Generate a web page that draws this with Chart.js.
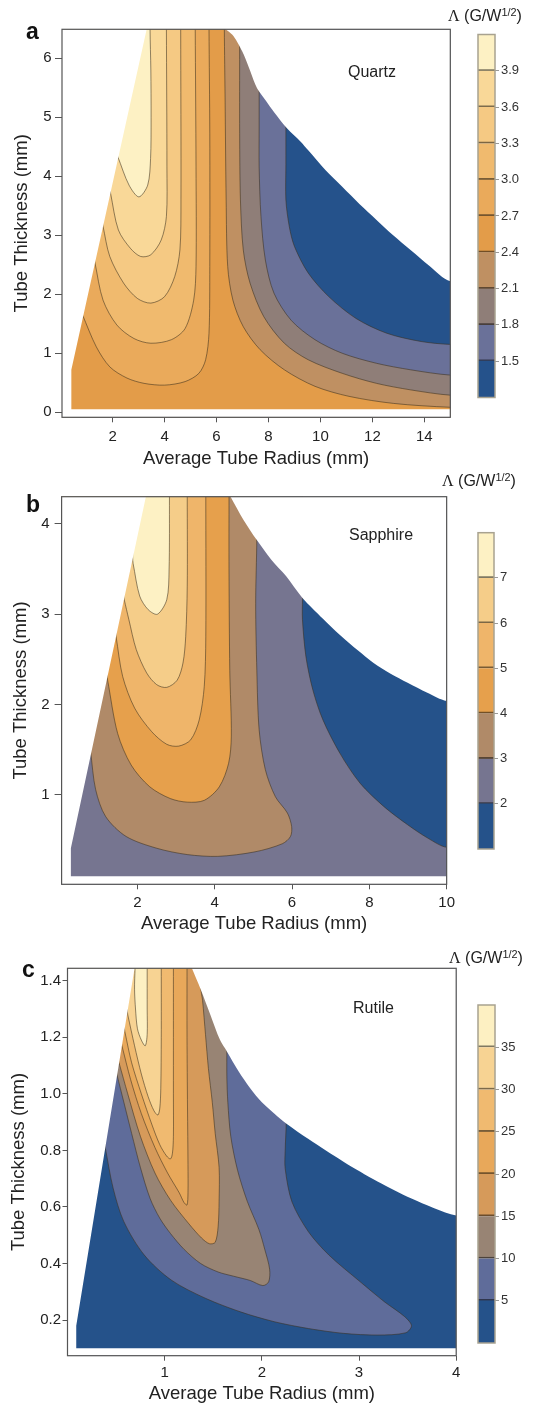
<!DOCTYPE html>
<html lang="en">
<head>
<meta charset="UTF-8">
<title>Λ maps - Quartz, Sapphire, Rutile</title>
<script src="https://cdn.jsdelivr.net/npm/chart.js@4"></script>
<style>
  html, body { margin: 0; padding: 0; background: #fff; }
  body {
    position: relative;
    width: 536px;
    height: 1405px;
    overflow: hidden;
    font-family: 'Liberation Sans', Arial, sans-serif;
    color: #222;
  }
  canvas { position: absolute; }
  .lbl { position: absolute; line-height: 1; white-space: nowrap; }
  .panel { font-weight: bold; font-size: 23px; color: #111; }
  .mat { font-size: 16px; }
  .unit { font-size: 16px; }
  .unit .lam { font-family: 'Liberation Serif', serif; }
  .unit sup { font-size: 0.68em; vertical-align: 0.5em; line-height: 0; }
</style>
</head>
<body>
  <canvas id="qzMap" width="460" height="470" style="left:0;top:0"></canvas>
  <canvas id="qzBar" width="66" height="470" style="left:470px;top:0"></canvas>
  <canvas id="spMap" width="460" height="465" style="left:0;top:470px"></canvas>
  <canvas id="spBar" width="66" height="465" style="left:470px;top:470px"></canvas>
  <canvas id="ruMap" width="466" height="470" style="left:0;top:935px"></canvas>
  <canvas id="ruBar" width="66" height="470" style="left:470px;top:935px"></canvas>

  <div class="lbl panel" style="left:26px;top:19.5px">a</div>
  <div class="lbl panel" style="left:26px;top:492.5px">b</div>
  <div class="lbl panel" style="left:22px;top:957.5px">c</div>

  <div class="lbl mat" style="left:348px;top:63.5px">Quartz</div>
  <div class="lbl mat" style="left:349px;top:527px">Sapphire</div>
  <div class="lbl mat" style="left:353px;top:999.5px">Rutile</div>

  <div class="lbl unit" style="left:448px;top:7.5px"><span class="lam">Λ</span> (G/W<sup>1/2</sup>)</div>
  <div class="lbl unit" style="left:442px;top:472.5px"><span class="lam">Λ</span> (G/W<sup>1/2</sup>)</div>
  <div class="lbl unit" style="left:449px;top:949.5px"><span class="lam">Λ</span> (G/W<sup>1/2</sup>)</div>

<script>
// ---------- (a) Quartz ----------
const quartzLevels = [1.2, 1.5, 1.8, 2.1, 2.4, 2.7, 3.0, 3.3, 3.6, 3.9, 4.2];
const quartzBarTicks = [1.5, 1.8, 2.1, 2.4, 2.7, 3.0, 3.3, 3.6, 3.9];
const quartzXTicks = [2, 4, 6, 8, 10, 12, 14];
const quartzYTicks = [0, 1, 2, 3, 4, 5, 6];
const quartzFloor = 0.05;
const quartzLeftEdge = [[0.41, 0.05], [0.41, 0.72], [3.31, 6.49]];
const quartzTopEdge = [[6.35, 6.49], [6.6, 6.40], [6.79, 6.28], [7.05, 6.06], [7.3, 5.78], [7.56, 5.49],
  [7.9, 5.28], [8.21, 5.09], [8.72, 4.81], [9.23, 4.59], [9.53, 4.44], [10.2, 4.10], [10.84, 3.82],
  [11.5, 3.53], [12.16, 3.26], [12.8, 3.00], [13.47, 2.75], [14.2, 2.48], [15.0, 2.22]];
// contour lines, each from its upper end
const quartz15 = [[8.67, 4.84], [8.67, 4.2], [8.67, 3.60], [8.80, 3.15], [9.0, 2.81], [9.53, 2.36], [10.32, 1.96],
  [11.37, 1.59], [12.55, 1.34], [13.87, 1.20], [15.0, 1.15]];
const quartz18 = [[7.64, 5.51], [7.64, 4.8], [7.64, 4.16], [7.71, 3.32], [7.88, 2.58], [8.21, 2.02], [8.87, 1.56],
  [9.79, 1.23], [10.84, 1.0], [12.16, 0.83], [13.47, 0.72], [15.0, 0.63]];
const quartz21 = [[6.89, 6.14], [6.89, 4.73], [6.92, 3.60], [7.03, 2.75], [7.29, 2.19], [7.82, 1.62], [8.61, 1.17],
  [9.53, 0.89], [10.84, 0.66], [12.16, 0.49], [13.47, 0.38], [15.0, 0.29]];
const quartz24 = [[6.30, 6.49], [6.33, 5.29], [6.37, 3.60], [6.43, 2.47], [6.63, 1.90], [7.03, 1.45], [7.68, 1.06],
  [8.61, 0.72], [9.79, 0.44], [11.1, 0.27], [12.82, 0.15], [15.0, 0.085]];
const quartz27 = [[5.71, 6.49], [5.74, 4.73], [5.74, 2.47], [5.71, 1.34], [5.58, 0.89], [5.32, 0.66], [4.79, 0.52],
  [4.0, 0.46], [3.21, 0.49], [2.55, 0.58], [1.89, 0.77], [1.37, 1.11], [0.84, 1.65]];
const quartz30 = [[5.18, 6.49], [5.21, 4.16], [5.21, 2.47], [5.12, 1.90], [4.79, 1.42], [4.26, 1.23], [3.47, 1.17],
  [2.82, 1.25], [2.16, 1.48], [1.63, 1.90], [1.32, 2.53]];
const quartz33 = [[4.62, 6.49], [4.63, 3.60], [4.59, 2.75], [4.39, 2.30], [4.0, 1.96], [3.47, 1.85], [2.95, 1.93],
  [2.42, 2.19], [1.89, 2.64], [1.63, 3.15]];
const quartz36 = [[4.07, 6.49], [4.09, 4.16], [4.07, 3.32], [3.87, 2.92], [3.47, 2.67], [3.08, 2.64], [2.68, 2.78],
  [2.22, 3.09], [1.92, 3.71]];
const quartz39 = [[3.44, 6.49], [3.47, 5.8], [3.48, 5.0], [3.46, 4.3], [3.35, 3.85], [3.01, 3.65], [2.63, 3.85],
  [2.20, 4.33]];
const quartzColors = ['#25528b', '#6a7199', '#8f7e78', '#bf9062', '#e39c49', '#eaaa5b', '#f0ba6e', '#f5c983',
  '#f9d898', '#fdf1c4'];

// ---------- (b) Sapphire ----------
const sapphireLevels = [1, 2, 3, 4, 5, 6, 7, 8];
const sapphireBarTicks = [2, 3, 4, 5, 6, 7];
const sapphireXTicks = [2, 4, 6, 8, 10];
const sapphireYTicks = [1, 2, 3, 4];
const sapphireFloor = 0.10;
const sapphireLeftEdge = [[0.28, 0.10], [0.28, 0.41], [2.22, 4.30]];
const sapphireTopEdge = [[4.41, 4.30], [4.75, 4.04], [5.09, 3.82], [5.47, 3.60], [5.85, 3.42], [6.27, 3.18],
  [6.8, 2.95], [7.24, 2.77], [7.7, 2.60], [8.11, 2.46], [8.55, 2.34], [8.99, 2.24], [9.5, 2.13], [10.0, 2.04]];
const sapphire2 = [[6.27, 3.16], [6.27, 2.94], [6.36, 2.53], [6.54, 2.16], [6.80, 1.83], [7.24, 1.46], [7.76, 1.13],
  [8.38, 0.87], [8.99, 0.67], [9.52, 0.52], [10.0, 0.42]];
const sapphire3 = [[5.09, 3.84], [5.06, 3.12], [5.09, 2.38], [5.15, 1.72], [5.31, 1.28], [5.57, 0.98], [5.88, 0.80],
  [5.99, 0.65], [5.96, 0.54], [5.75, 0.46], [5.04, 0.37], [4.08, 0.32], [3.29, 0.34], [2.50, 0.41], [1.71, 0.54],
  [1.18, 0.76], [0.92, 1.06], [0.79, 1.48]];
const sapphire4 = [[4.37, 4.30], [4.37, 3.49], [4.39, 2.38], [4.43, 1.65], [4.36, 1.35], [4.12, 1.09], [3.73, 0.94],
  [3.29, 0.92], [2.85, 0.96], [2.32, 1.09], [1.84, 1.33], [1.49, 1.68], [1.23, 2.27]];
const sapphire5 = [[3.77, 4.30], [3.77, 2.75], [3.73, 2.20], [3.60, 1.83], [3.38, 1.61], [3.07, 1.54], [2.76, 1.56],
  [2.37, 1.70], [1.93, 1.96], [1.62, 2.31], [1.45, 2.75]];
const sapphire6 = [[3.29, 4.30], [3.29, 3.31], [3.25, 2.75], [3.18, 2.46], [3.03, 2.27], [2.76, 2.19], [2.50, 2.22],
  [2.24, 2.35], [1.97, 2.61], [1.78, 2.94], [1.66, 3.16]];
const sapphire7 = [[2.83, 4.30], [2.82, 3.49], [2.76, 3.16], [2.52, 3.0], [2.28, 3.05], [2.06, 3.20], [1.89, 3.56]];
const sapphireColors = ['#25528a', '#767590', '#b08a68', '#e6a04c', '#efb56a', '#f5cd89', '#fdf1c4'];

// ---------- (c) Rutile ----------
const rutileLevels = [0, 5, 10, 15, 20, 25, 30, 35, 40];
const rutileBarTicks = [5, 10, 15, 20, 25, 30, 35];
const rutileXTicks = [1, 2, 3, 4];
const rutileYTicks = [0.2, 0.4, 0.6, 0.8, 1.0, 1.2, 1.4];
const rutileFloor = 0.10;
const rutileLeftEdge = [[0.09, 0.10], [0.09, 0.18], [0.69, 1.444]];
const rutileTopEdge = [[1.28, 1.444], [1.37, 1.37], [1.47, 1.28], [1.57, 1.19], [1.64, 1.15], [1.76, 1.08],
  [1.88, 1.02], [2.0, 0.97], [2.13, 0.93], [2.25, 0.895], [2.48, 0.84], [2.84, 0.76], [3.19, 0.69],
  [3.54, 0.63], [4.0, 0.57]];
const rutile5 = [[2.25, 0.895], [2.24, 0.80], [2.24, 0.736], [2.31, 0.618], [2.48, 0.512], [2.69, 0.43],
  [3.01, 0.336], [3.26, 0.265], [3.47, 0.212], [3.54, 0.18], [3.48, 0.155], [3.19, 0.147], [2.84, 0.153],
  [2.48, 0.170], [2.13, 0.194], [1.78, 0.229], [1.42, 0.277], [1.07, 0.341], [0.79, 0.43], [0.58, 0.548],
  [0.47, 0.666], [0.39, 0.807]];
const rutile10 = [[1.64, 1.16], [1.64, 1.06], [1.65, 0.97], [1.68, 0.85], [1.75, 0.73], [1.85, 0.62], [1.97, 0.52],
  [2.03, 0.45], [2.08, 0.38], [2.07, 0.335], [2.01, 0.322], [1.88, 0.34], [1.71, 0.355], [1.55, 0.37],
  [1.37, 0.40], [1.20, 0.45], [1.06, 0.506], [0.95, 0.56], [0.85, 0.63], [0.75, 0.74], [0.66, 0.86],
  [0.58, 0.97], [0.51, 1.066]];
const rutile15 = [[1.37, 1.38], [1.39, 1.33], [1.42, 1.21], [1.45, 1.09], [1.49, 0.97], [1.52, 0.86], [1.56, 0.74],
  [1.56, 0.62], [1.55, 0.53], [1.52, 0.475], [1.46, 0.47], [1.38, 0.49], [1.25, 0.54], [1.06, 0.624],
  [0.90, 0.72], [0.75, 0.85], [0.62, 1.0], [0.53, 1.11]];
const rutile20 = [[1.23, 1.444], [1.23, 1.2], [1.235, 0.95], [1.24, 0.75], [1.24, 0.65], [1.23, 0.607],
  [1.20, 0.615], [1.15, 0.65], [1.03, 0.72], [0.90, 0.81], [0.76, 0.93], [0.65, 1.05], [0.56, 1.17]];
const rutile25 = [[1.09, 1.444], [1.09, 1.2], [1.09, 1.0], [1.09, 0.85], [1.08, 0.79], [1.06, 0.77], [1.02, 0.78],
  [0.95, 0.82], [0.87, 0.89], [0.76, 1.0], [0.66, 1.11], [0.59, 1.22]];
const rutile30 = [[0.965, 1.444], [0.965, 1.2], [0.96, 1.02], [0.95, 0.95], [0.93, 0.925], [0.89, 0.94],
  [0.83, 0.99], [0.76, 1.07], [0.69, 1.17], [0.62, 1.28]];
const rutile35 = [[0.82, 1.444], [0.82, 1.30], [0.82, 1.21], [0.80, 1.17], [0.76, 1.19], [0.72, 1.23],
  [0.70, 1.30], [0.69, 1.37], [0.695, 1.444]];
const rutileColors = ['#25528a', '#5f6c9a', '#988474', '#d69a5a', '#e8a85a', '#f0ba70', '#f7d393', '#fdf0c2'];

Chart.defaults.font.family = "'Liberation Sans', Arial, sans-serif";
Chart.defaults.color = '#222';

const framePlugin = {
  id: 'frame',
  afterDatasetsDraw(chart, args, opts) {
    const { ctx, chartArea: a } = chart;
    ctx.save();
    ctx.strokeStyle = opts.color;
    ctx.lineWidth = opts.width;
    ctx.strokeRect(a.left, a.top, a.right - a.left, a.bottom - a.top);
    ctx.restore();
  }
};

function darken(hex, f) {
  const n = parseInt(hex.slice(1), 16);
  const r = Math.round(((n >> 16) & 255) * f), g = Math.round(((n >> 8) & 255) * f), b = Math.round((n & 255) * f);
  return `rgb(${r},${g},${b})`;
}

function poly(points, color, bw, tension, order) {
  return {
    data: points.map(([x, y]) => ({ x, y })),
    showLine: true,
    fill: 'shape',
    backgroundColor: color,
    borderColor: 'rgba(60,48,30,0.7)',
    borderWidth: bw,
    pointRadius: 0,
    tension: tension,
    order: order
  };
}

function mapChart(id, s) {
  const wx = s.x[1] - s.x[0], wy = s.y[1] - s.y[0];
  const px = wx * 0.1, py = wy * 0.1;
  const L = s.x[0] - px, R = s.x[1] + px, B = s.y[0] - py, T = s.y[1] + py;
  const ds = [];
  // lowest band as background
  ds.push(poly([[R, B], [L, B], [L, T], [R, T]], s.colors[0], 0, 0, 100));
  // superlevel regions, low to high
  s.contours.forEach((c, i) => {
    const first = c[0], last = c[c.length - 1], prev = c[c.length - 2];
    const p = [[first[0], T], ...c];
    if (last[0] >= s.x[1] - 1e-6) {
      p.push([R, last[1]], [R, B], [L, B], [L, T]);
    } else {
      // carry the line a little past the domain edge (hidden by the mask), then close outside
      const dx = last[0] - prev[0], dy = last[1] - prev[1];
      const k = 0.06 / Math.hypot(dx / wx, dy / wy);
      const ext = [last[0] + dx * k, last[1] + dy * k];
      p.push(ext, [L, ext[1]], [L, T]);
    }
    ds.push(poly(p, s.colors[i + 1], 0.8, 0.3, 50 - i));
  });
  // white outside the computed domain
  const le = s.leftEdge, te = s.topEdge;
  ds.push(poly([[L, B], [le[0][0], B], ...le, [le[le.length - 1][0], T], [L, T]], '#ffffff', 0, 0, 2));
  ds.push(poly([[L, B], [R, B], [R, s.floor], [L, s.floor]], '#ffffff', 0, 0, 1));
  ds.push(poly([...te, [R, te[te.length - 1][1]], [R, T], [te[0][0], T]], '#ffffff', 0, 0.3, 0));

  new Chart(document.getElementById(id), {
    type: 'scatter',
    data: { datasets: ds },
    options: {
      responsive: false,
      animation: false,
      events: [],
      devicePixelRatio: 1,
      layout: { padding: { left: 0, top: s.box.top, right: s.box.right, bottom: 0 } },
      plugins: {
        legend: { display: false },
        tooltip: { enabled: false },
        frame: { color: '#555', width: 1.2 }
      },
      scales: {
        x: {
          type: 'linear',
          min: s.x[0],
          max: s.x[1],
          afterBuildTicks: sc => { sc.ticks = s.xTicks.map(v => ({ value: v })); },
          afterFit: sc => { sc.height = s.box.xH; },
          border: { display: false },
          grid: { display: true, drawOnChartArea: false, drawTicks: true, tickLength: 5, color: '#555' },
          ticks: { autoSkip: false, maxRotation: 0, padding: s.xPad, font: { size: 15 }, color: '#222',
            callback: v => s.fmt(v) },
          title: { display: true, text: 'Average Tube Radius (mm)', font: { size: 18.5 }, color: '#222',
            padding: { top: 0, bottom: 0 } }
        },
        y: {
          type: 'linear',
          min: s.y[0],
          max: s.y[1],
          afterBuildTicks: sc => { sc.ticks = s.yTicks.map(v => ({ value: v })); },
          afterFit: sc => { sc.width = s.box.yW; },
          border: { display: false },
          grid: { display: true, drawOnChartArea: false, drawTicks: true, tickLength: s.yTickLen, color: '#555' },
          ticks: { autoSkip: false, padding: s.yPad, font: { size: 15 }, color: '#222',
            callback: v => s.fmtY(v) },
          title: { display: true, text: 'Tube Thickness (mm)', font: { size: 18.5 }, color: '#222',
            padding: { top: s.yTitlePad, bottom: 0 } }
        }
      }
    },
    plugins: [framePlugin]
  });
}

function barChart(id, s) {
  const n = s.levels.length - 1;
  const ds = [];
  for (let i = 0; i < n; i++) {
    ds.push({
      data: [[s.levels[i], s.levels[i + 1]]],
      backgroundColor: s.colors[i],
      borderColor: darken(s.colors[i], 0.5),
      borderWidth: i > 0 ? { bottom: 2 } : 0,
      borderSkipped: false,
      grouped: false,
      barPercentage: 1,
      categoryPercentage: 1
    });
  }
  new Chart(document.getElementById(id), {
    type: 'bar',
    data: { labels: [''], datasets: ds },
    options: {
      responsive: false,
      animation: false,
      events: [],
      devicePixelRatio: 1,
      layout: { padding: { left: s.box.left, top: s.box.top, right: 0, bottom: s.box.bottom } },
      plugins: {
        legend: { display: false },
        tooltip: { enabled: false },
        frame: { color: '#a8a290', width: 1.5 }
      },
      scales: {
        x: { display: false },
        y: {
          position: 'right',
          min: s.levels[0],
          max: s.levels[n],
          afterBuildTicks: sc => { sc.ticks = s.ticks.map(v => ({ value: v })); },
          afterFit: sc => { sc.width = s.box.w; },
          border: { display: false },
          grid: { display: true, drawOnChartArea: false, drawTicks: true, tickLength: 4, color: '#999' },
          ticks: { autoSkip: false, padding: 2, font: { size: 13 }, color: '#333', callback: v => s.fmt(v) }
        }
      }
    },
    plugins: [framePlugin]
  });
}

const intFmt = v => String(v);
const oneDec = v => v.toFixed(1);

mapChart('qzMap', {
  x: [0.05, 15.0], y: [-0.085, 6.49], xTicks: quartzXTicks, yTicks: quartzYTicks,
  contours: [quartz15, quartz18, quartz21, quartz24, quartz27, quartz30, quartz33, quartz36, quartz39],
  colors: quartzColors, leftEdge: quartzLeftEdge, topEdge: quartzTopEdge, floor: quartzFloor,
  box: { top: 29.3, right: 9.7, yW: 62, xH: 52.7 },
  yTickLen: 7, yPad: 3.5, xPad: 6, yTitlePad: 11.2, fmt: intFmt, fmtY: intFmt
});
barChart('qzBar', {
  levels: quartzLevels, ticks: quartzBarTicks, colors: quartzColors,
  box: { left: 8, top: 34.5, bottom: 72.5, w: 41 }, fmt: oneDec
});

mapChart('spMap', {
  x: [0.04, 10.0], y: [0.011, 4.30], xTicks: sapphireXTicks, yTicks: sapphireYTicks,
  contours: [sapphire2, sapphire3, sapphire4, sapphire5, sapphire6, sapphire7],
  colors: sapphireColors, leftEdge: sapphireLeftEdge, topEdge: sapphireTopEdge, floor: sapphireFloor,
  box: { top: 26.7, right: 9.7, yW: 61.6, xH: 50.7 },
  yTickLen: 7, yPad: 5, xPad: 5, yTitlePad: 10, fmt: intFmt, fmtY: intFmt
});
barChart('spBar', {
  levels: sapphireLevels, ticks: sapphireBarTicks, colors: sapphireColors,
  box: { left: 8, top: 62.7, bottom: 86, w: 42 }, fmt: intFmt
});

mapChart('ruMap', {
  x: [0.0, 4.0], y: [0.074, 1.444], xTicks: rutileXTicks, yTicks: rutileYTicks,
  contours: [rutile5, rutile10, rutile15, rutile20, rutile25, rutile30, rutile35],
  colors: rutileColors, leftEdge: rutileLeftEdge, topEdge: rutileTopEdge, floor: rutileFloor,
  box: { top: 33.3, right: 9.8, yW: 67.5, xH: 49.3 },
  yTickLen: 5, yPad: 1.5, xPad: 3, yTitlePad: 7.7, fmt: intFmt, fmtY: oneDec
});
barChart('ruBar', {
  levels: rutileLevels, ticks: rutileBarTicks, colors: rutileColors,
  box: { left: 8, top: 70, bottom: 62, w: 41 }, fmt: intFmt
});
</script>
</body>
</html>
